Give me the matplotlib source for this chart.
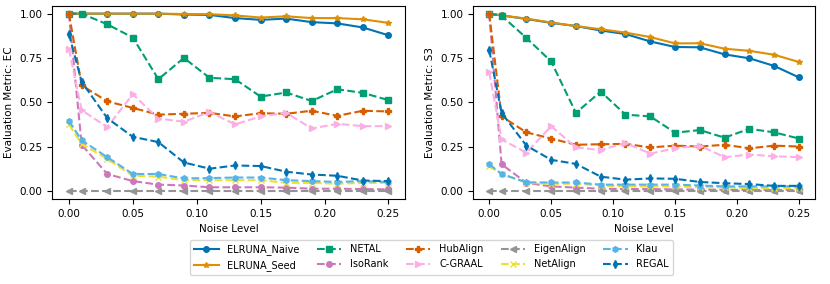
import matplotlib
matplotlib.use("Agg")
import matplotlib.pyplot as plt

noise = [0.0, 0.01, 0.03, 0.05, 0.07, 0.09, 0.11, 0.13, 0.15, 0.17, 0.19, 0.21, 0.23, 0.25]

methods = ["ELRUNA_Naive", "ELRUNA_Seed", "NETAL", "IsoRank", "HubAlign",
           "C-GRAAL", "EigenAlign", "NetAlign", "Klau", "REGAL"]
colors = ["#0173b2", "#de8f05", "#029e73", "#cc78bc", "#d55e00",
          "#fbafe4", "#949494", "#ece133", "#56b4e9", "#0173b2"]
markers = ["o", "*", "s", "o", "P", ">", "<", "x", "h", "d"]
styles = ["-", "-", "--", "--", "--", "--", "--", "--", "--", "--"]

ec = {
    "ELRUNA_Naive": [1.0, 1.0, 1.0, 1.0, 1.0, 0.995, 0.993, 0.975, 0.965, 0.972, 0.952, 0.945, 0.922, 0.878],
    "ELRUNA_Seed": [1.0, 1.0, 1.0, 1.0, 1.0, 0.998, 0.997, 0.99, 0.978, 0.985, 0.975, 0.975, 0.968, 0.948],
    "NETAL": [1.0, 1.0, 0.94, 0.865, 0.63, 0.75, 0.638, 0.63, 0.532, 0.555, 0.507, 0.573, 0.553, 0.512],
    "IsoRank": [1.0, 0.26, 0.095, 0.055, 0.035, 0.03, 0.02, 0.02, 0.02, 0.018, 0.012, 0.012, 0.01, 0.008],
    "HubAlign": [1.0, 0.595, 0.505, 0.468, 0.43, 0.435, 0.44, 0.42, 0.438, 0.435, 0.452, 0.423, 0.452, 0.448],
    "C-GRAAL": [0.80, 0.455, 0.36, 0.545, 0.408, 0.39, 0.445, 0.375, 0.42, 0.44, 0.352, 0.378, 0.365, 0.365],
    "EigenAlign": [0.0] * 14,
    "NetAlign": [0.375, 0.265, 0.18, 0.085, 0.08, 0.06, 0.06, 0.06, 0.06, 0.045, 0.045, 0.04, 0.045, 0.045],
    "Klau": [0.395, 0.285, 0.19, 0.095, 0.095, 0.07, 0.072, 0.075, 0.075, 0.06, 0.055, 0.05, 0.055, 0.05],
    "REGAL": [0.885, 0.615, 0.41, 0.305, 0.275, 0.16, 0.125, 0.143, 0.14, 0.108, 0.092, 0.085, 0.058, 0.055],
}

s3 = {
    "ELRUNA_Naive": [1.0, 0.99, 0.97, 0.948, 0.93, 0.905, 0.885, 0.843, 0.812, 0.81, 0.77, 0.748, 0.705, 0.64],
    "ELRUNA_Seed": [1.0, 0.99, 0.972, 0.95, 0.93, 0.912, 0.893, 0.868, 0.832, 0.833, 0.802, 0.79, 0.768, 0.727],
    "NETAL": [1.0, 0.988, 0.863, 0.73, 0.44, 0.56, 0.43, 0.42, 0.328, 0.343, 0.3, 0.35, 0.33, 0.295],
    "IsoRank": [1.0, 0.15, 0.045, 0.025, 0.018, 0.012, 0.01, 0.01, 0.008, 0.007, 0.006, 0.005, 0.005, 0.005],
    "HubAlign": [1.0, 0.42, 0.33, 0.295, 0.26, 0.263, 0.265, 0.245, 0.255, 0.25, 0.26, 0.24, 0.255, 0.25],
    "C-GRAAL": [0.67, 0.29, 0.215, 0.365, 0.245, 0.23, 0.27, 0.21, 0.24, 0.255, 0.19, 0.205, 0.195, 0.19],
    "EigenAlign": [0.0] * 14,
    "NetAlign": [0.14, 0.095, 0.045, 0.04, 0.04, 0.03, 0.025, 0.025, 0.025, 0.02, 0.02, 0.015, 0.015, 0.015],
    "Klau": [0.15, 0.095, 0.048, 0.047, 0.047, 0.035, 0.035, 0.035, 0.035, 0.03, 0.025, 0.025, 0.025, 0.025],
    "REGAL": [0.795, 0.44, 0.255, 0.175, 0.152, 0.08, 0.063, 0.07, 0.068, 0.05, 0.043, 0.038, 0.028, 0.028],
}

plt.rcParams["font.size"] = 7.5

fig = plt.figure(figsize=(8.3, 2.84), dpi=100)
ax1 = fig.add_axes([0.063, 0.30, 0.425, 0.68])
ax2 = fig.add_axes([0.570, 0.30, 0.412, 0.68])

for ax, data, label in [(ax1, ec, "Evaluation Metric: EC"), (ax2, s3, "Evaluation Metric: S3")]:
    for m, c, mk, ls in zip(methods, colors, markers, styles):
        ax.plot(noise, data[m], color=c, marker=mk, linestyle=ls,
                linewidth=1.5, markersize=4, label=m)
    ax.set_xlabel("Noise Level")
    ax.set_ylabel(label)
    ax.set_yticks([0.0, 0.25, 0.5, 0.75, 1.0])
    ax.set_xticks([0.0, 0.05, 0.10, 0.15, 0.20, 0.25])
    ax.set_ylim(-0.045, 1.045)
    ax.set_xlim(-0.013, 0.263)

handles, labels = ax1.get_legend_handles_labels()
fig.legend(handles, labels, loc="lower center", ncol=5,
           bbox_to_anchor=(0.52, 0.015), fontsize=7, handlelength=2.5,
           columnspacing=1.8, handletextpad=0.9)

fig.savefig("out.png", dpi=100)
